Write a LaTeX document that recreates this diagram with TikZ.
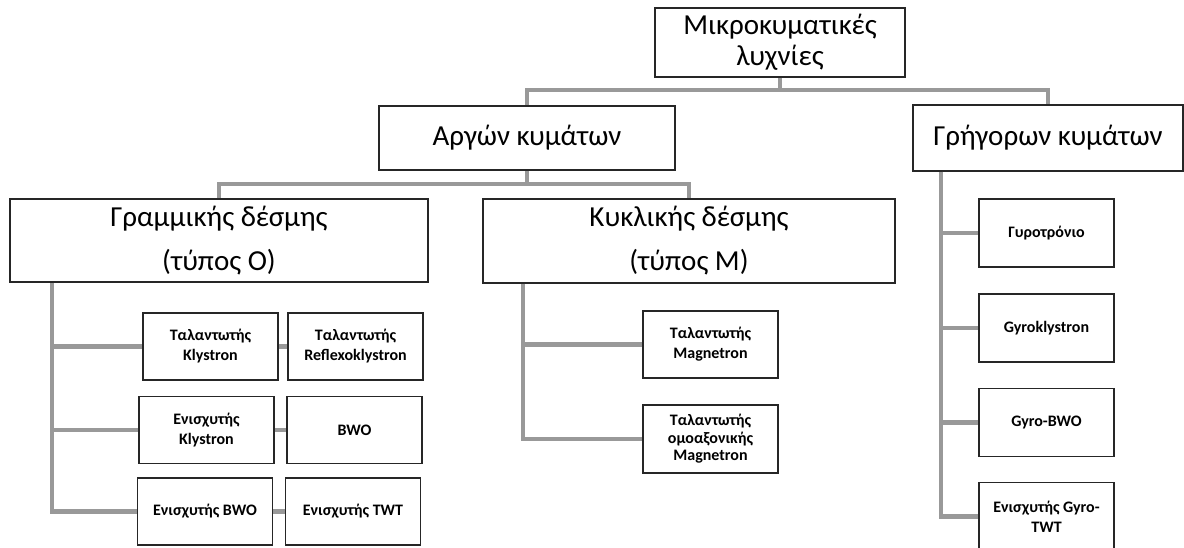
\documentclass[tikz,border=0pt]{standalone}
\usepackage{fontspec}
\setmainfont{Carlito}
\definecolor{linkgray}{HTML}{999999}
\definecolor{boxline}{HTML}{262626}
\begin{document}
\begin{tikzpicture}[x=1pt, y=-1pt,
		box/.style={draw=boxline, line width=1.7pt, fill=white, align=center,
			font=\bfseries\fontsize{16}{20}\selectfont, minimum width=135, minimum height=67, inner sep=1pt},
		bigbox/.style={draw=boxline, line width=1.7pt, fill=white, align=center,
			font=\fontsize{29}{31}\selectfont, inner sep=1pt},
		link/.style={draw=linkgray, line width=4.5pt}]
		\useasboundingbox[fill=white] (0,0) rectangle (1184,547);

		% Top levels
		\node[bigbox, minimum width=250, minimum height=69] (lamps) at (780,42.5) {Μικροκυματικές\\λυχνίες};
		\node[bigbox, minimum width=296, minimum height=64] (slow) at (527,138) {Αργών κυμάτων};
		\node[bigbox, minimum width=270, minimum height=66] (fast) at (1048,138) {Γρήγορων κυμάτων};
		\node[bigbox, minimum width=418, minimum height=83, font=\fontsize{29}{44}\selectfont] (linear) at (219,240.5) {Γραμμικής δέσμης\\(τύπος O)};
		\node[bigbox, minimum width=412, minimum height=84, font=\fontsize{29}{44}\selectfont] (cross) at (689,241) {Κυκλικής δέσμης\\(τύπος M)};

		\draw[link] (lamps.south) -- (lamps.south |- 0,90);
		\draw[link] (slow.north) -- (slow.north |- 0,90) -| (fast.north);
		\draw[link] (slow.south) -- (slow.south |- 0,184);
		\draw[link] (linear.north) -- (linear.north |- 0,184) -| (cross.north);

		% Linear beam (type O)
		\node[box] (oscKly) at (210.5,346.5) {Ταλαντωτής\\Klystron};
		\node[box] (oscRefl) at (355.5,346.5) {Ταλαντωτής\\Reflexoklystron};
		\node[box] (ampKly) at (206.5,430) {Ενισχυτής\\Klystron};
		\node[box] (bwo) at (354.5,430) {BWO};
		\node[box] (ampBwo) at (205,511.5) {Ενισχυτής BWO};
		\node[box] (ampTwt) at (353,511.5) {Ενισχυτής TWT};
		\foreach \n in {oscKly,ampKly,ampBwo}
			\draw[link] (linear.south -| 52,0) |- (\n.west);
		\draw[link] (oscKly) -- (oscRefl);
		\draw[link] (ampKly) -- (bwo);
		\draw[link] (ampBwo) -- (ampTwt);

		% Crossed field (type M)
		\node[box] (mag) at (710.5,344.5) {Ταλαντωτής\\Magnetron};
		\node[box, minimum height=68, font=\bfseries\fontsize{16}{17.5}\selectfont] (coaxMag) at (710.5,439) {Ταλαντωτής\\ομοαξονικής\\Magnetron};
		\foreach \n in {mag,coaxMag}
			\draw[link] (cross.south -| 523,0) |- (\n.west);

		% Fast wave
		\node[box, minimum height=68] (gyrotron) at (1046.5,233) {Γυροτρόνιο};
		\node[box, minimum height=68] (gyroKly) at (1046.5,328) {Gyroklystron};
		\node[box, minimum height=68] (gyroBwo) at (1046.5,422.5) {Gyro-BWO};
		\node[box, minimum height=68] (gyroTwt) at (1046.5,516.5) {Ενισχυτής Gyro-\\TWT};
		\foreach \n in {gyrotron,gyroKly,gyroBwo,gyroTwt}
			\draw[link] (fast.south -| 941,0) |- (\n.west);
	\end{tikzpicture}
\end{document}
